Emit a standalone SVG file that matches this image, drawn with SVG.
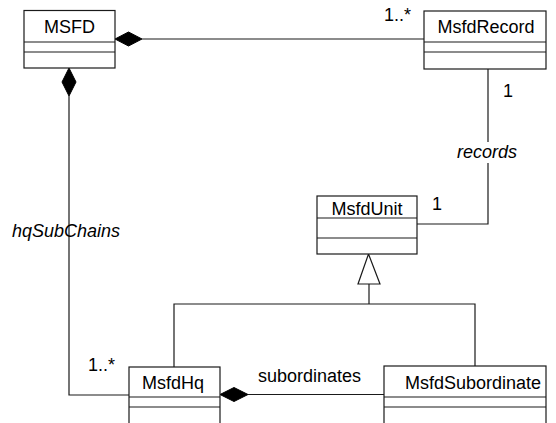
<svg xmlns="http://www.w3.org/2000/svg" width="556" height="423" viewBox="0 0 556 423">
<style>
.box{fill:#fff;stroke:#1a1a1a;stroke-width:1.2}
.sep{stroke:#1a1a1a;stroke-width:1.2}
.ln{fill:none;stroke:#1a1a1a;stroke-width:1.2}
.dia{fill:#000;stroke:#000;stroke-width:1}
.tri{fill:#fff;stroke:#1a1a1a;stroke-width:1.2}
.nm{font-family:"Liberation Sans",Arial,sans-serif;font-size:18px;fill:#000;text-anchor:middle}
.lb{font-family:"Liberation Sans",Arial,sans-serif;font-size:18px;fill:#000}
.it{font-style:italic}
</style>
<rect width="556" height="423" fill="#fff"/>
<g id="connectors">
  <line class="ln" x1="142" y1="39" x2="424" y2="39"/>
  <polygon class="dia" points="115,39 128.5,32 142,39 128.5,46"/>
  <polyline class="ln" points="69,96 69,395 129,395"/>
  <polygon class="dia" points="69,68 62,82 69,96 76,82"/>
  <line class="ln" x1="488" y1="69" x2="488" y2="142"/>
  <polyline class="ln" points="488,163 488,224 417,224"/>
  <line class="ln" x1="248" y1="394.5" x2="384" y2="394.5"/>
  <polygon class="dia" points="220,394.5 234,387.5 248,394.5 234,401.5"/>
  <polyline class="ln" points="174,367 174,304 475,304 475,366"/>
  <line class="ln" x1="369" y1="284" x2="369" y2="304"/>
  <polygon class="tri" points="368.5,254 358,284 380,284"/>
  <text class="lb" x="384" y="21">1..*</text>
  <text class="lb" x="503" y="97">1</text>
  <text class="lb it" x="457" y="158">records</text>
  <text class="lb" x="432" y="210">1</text>
  <text class="lb it" x="12" y="237">hqSubChains</text>
  <text class="lb" x="88" y="371">1..*</text>
  <text class="lb" x="258" y="382">subordinates</text>
</g>
<g id="MSFD">
  <rect class="box" x="24" y="10.5" width="91" height="57.5"/>
  <line class="sep" x1="24" y1="42" x2="115" y2="42"/>
  <line class="sep" x1="24" y1="52" x2="115" y2="52"/>
  <text class="nm" x="69.5" y="33">MSFD</text>
</g>
<g id="MsfdRecord">
  <rect class="box" x="424" y="11" width="122" height="58"/>
  <line class="sep" x1="424" y1="42" x2="546" y2="42"/>
  <line class="sep" x1="424" y1="52" x2="546" y2="52"/>
  <text class="nm" x="486" y="33">MsfdRecord</text>
</g>
<g id="MsfdUnit">
  <rect class="box" x="317" y="196" width="100" height="58"/>
  <line class="sep" x1="317" y1="218" x2="417" y2="218"/>
  <line class="sep" x1="317" y1="238" x2="417" y2="238"/>
  <text class="nm" x="367" y="215">MsfdUnit</text>
</g>
<g id="MsfdHq">
  <rect class="box" x="129" y="367" width="91" height="70"/>
  <line class="sep" x1="129" y1="397" x2="220" y2="397"/>
  <line class="sep" x1="129" y1="407" x2="220" y2="407"/>
  <text class="nm" x="173" y="389">MsfdHq</text>
</g>
<g id="MsfdSubordinate">
  <rect class="box" x="384" y="366" width="162" height="70"/>
  <line class="sep" x1="384" y1="397" x2="546" y2="397"/>
  <line class="sep" x1="384" y1="407" x2="546" y2="407"/>
  <text class="nm" x="473" y="389">MsfdSubordinate</text>
</g>
</svg>
